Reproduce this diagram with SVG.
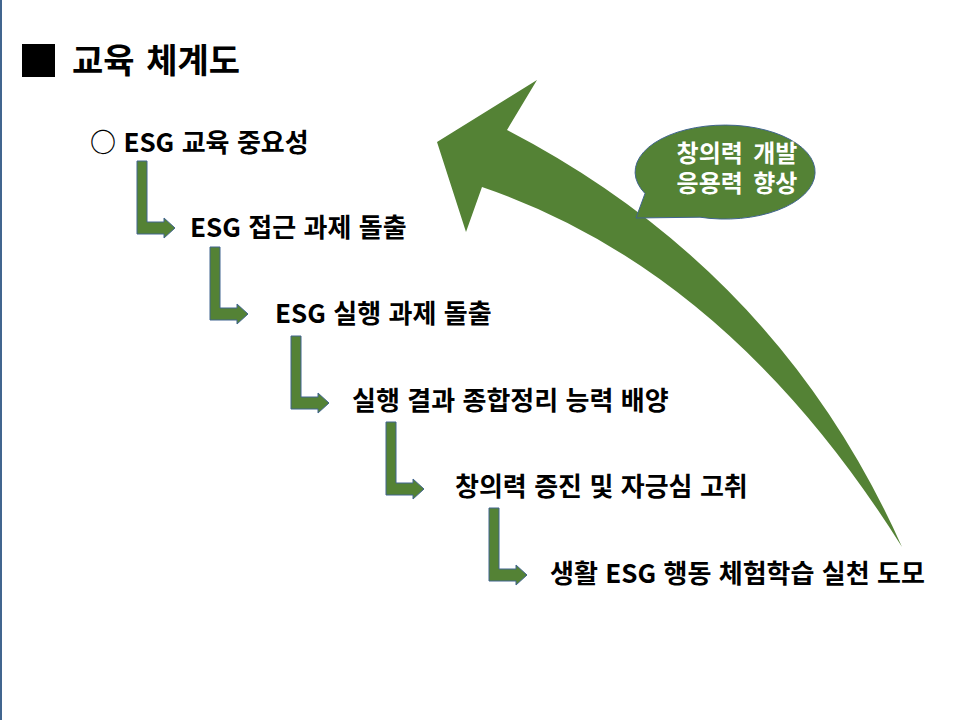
<svg xmlns="http://www.w3.org/2000/svg" xmlns:xlink="http://www.w3.org/1999/xlink" width="960" height="720" viewBox="0 0 960 720">
<style>
.t{font-family:"Noto Sans CJK KR","Malgun Gothic","Noto Sans",sans-serif;font-weight:bold;fill:#000}
.s{font-size:26px;word-spacing:1.5px}
.w{font-family:"Noto Sans CJK KR","Noto Sans",sans-serif;font-weight:bold;font-size:24px;word-spacing:5px;fill:#fff}
.g{fill:#548235}
.bent{fill:#548235;stroke:#41658F;stroke-width:1}
</style>
<defs>
<path id="bentArrow" d="M0,0 h10 v61 h17 v-4 l11,10 l-11,10 v-4 h-27 z"/>
</defs>
<rect x="0" y="0" width="960" height="720" fill="#fff"/>
<rect x="0" y="0" width="2" height="720" fill="#41658F"/>
<g id="title">
<rect x="22" y="44" width="33" height="33" fill="#000"/>
<text class="t" x="72" y="73" font-size="34" word-spacing="4">교육 체계도</text>
</g>
<g id="connectors">
<use xlink:href="#bentArrow" class="bent" transform="translate(137,161)"/>
<use xlink:href="#bentArrow" class="bent" transform="translate(210,247)"/>
<use xlink:href="#bentArrow" class="bent" transform="translate(291,336)"/>
<use xlink:href="#bentArrow" class="bent" transform="translate(386,422)"/>
<use xlink:href="#bentArrow" class="bent" transform="translate(489,508)"/>
<path id="bigArrow" class="g" d="M902,547 Q779,271 507,130 L537,80 L437,142 L466,232 L482,187 Q729,271 902,547 Z"/>
</g>
<g id="n1"><text class="t s" x="90" y="152">○ ESG 교육 중요성</text></g>
<g id="n2"><text class="t s" x="190" y="237">ESG 접근 과제 돌출</text></g>
<g id="n3"><text class="t s" x="275" y="323">ESG 실행 과제 돌출</text></g>
<g id="n4"><text class="t s" x="352" y="410">실행 결과 종합정리 능력 배양</text></g>
<g id="n5"><text class="t s" x="455" y="496">창의력 증진 및 자긍심 고취</text></g>
<g id="n6"><text class="t s" x="550" y="583">생활 ESG 행동 체험학습 실천 도모</text></g>
<g id="callout">
<path d="M645,193.5 L636,218 L700,217.2 A90 47 0 1 0 645,193.5 Z" fill="#548235" stroke="#41658F" stroke-width="1"/>
<text class="w" x="737" y="162" text-anchor="middle">창의력 개발</text>
<text class="w" x="737" y="192" text-anchor="middle">응용력 향상</text>
</g>
</svg>
